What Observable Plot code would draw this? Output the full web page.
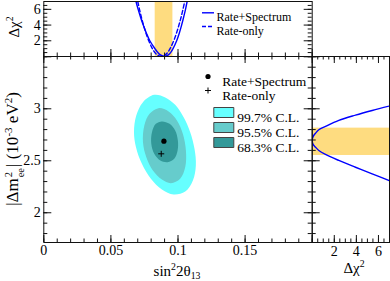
<!DOCTYPE html>
<html><head><meta charset="utf-8">
<script src="https://cdn.jsdelivr.net/npm/d3@7"></script>
<script src="https://cdn.jsdelivr.net/npm/@observablehq/plot@0.6"></script>
<style>
html,body{margin:0;padding:0;background:#fff;}
#chart{position:relative;width:390px;height:281px;overflow:hidden;font-family:"Liberation Serif","Times New Roman",serif;color:#000;background:#fff;}
#chart svg{position:absolute;left:0;top:0;}
.lbl{position:absolute;white-space:nowrap;line-height:1.1;}
.lbl sup{font-size:0.65em;vertical-align:0.55em;line-height:0;}
.lbl sub{font-size:0.65em;vertical-align:-0.35em;line-height:0;}
.ss{display:inline-flex;flex-direction:column;font-size:0.62em;line-height:1.1;vertical-align:0.5em;margin:0 1px;}
</style></head><body><div id="chart"></div>
<script>
// ---------- data ----------
const xTickValues = [0, 0.05, 0.1, 0.15];
const xTickLabels = ["0", "0.05", "0.1", "0.15"];
const yTickValues = [2, 2.5, 3];
const yTickLabels = ["2", "2.5", "3"];
const chiTickValues = [2, 4, 6];
const chiTickLabels = ["2", "4", "6"];

// contours (sin^2 2theta13, |dm2_ee|)
const contour997 = [
  [0.0823,3.134],[0.0905,3.109],[0.0979,3.038],[0.1041,2.920],[0.1091,2.775],[0.1123,2.615],
  [0.1133,2.455],[0.1111,2.311],[0.1054,2.205],[0.0967,2.176],[0.0880,2.224],[0.0798,2.327],
  [0.0731,2.471],[0.0687,2.631],[0.0672,2.775],[0.0689,2.936],[0.0739,3.064]
];
const contour955 = [
  [0.0855,3.006],[0.0930,2.974],[0.0992,2.888],[0.1036,2.759],[0.1059,2.599],[0.1054,2.439],
  [0.1016,2.327],[0.0947,2.285],[0.0880,2.320],[0.0813,2.407],[0.0764,2.535],[0.0739,2.679],
  [0.0749,2.839],[0.0788,2.952]
];
const contour683 = [
  [0.0880,2.878],[0.0937,2.855],[0.0979,2.791],[0.0999,2.695],[0.0997,2.599],[0.0972,2.519],
  [0.0922,2.487],[0.0868,2.503],[0.0823,2.567],[0.0801,2.663],[0.0806,2.775],[0.0835,2.855]
];
const bestRateSpectrum = [0.0895, 2.689];
const bestRateOnly = [0.0875, 2.567];

// top panel: delta chi2 vs sin^2 2theta13
const chiSinRateSpectrum = [
  [0.0687,7],[0.0703,6],[0.0721,5],[0.0741,4],[0.0764,3],[0.0790,2],[0.0828,1],[0.0850,0.5],
  [0.0869,0.2],[0.0900,0],[0.0928,0.2],[0.0945,0.5],[0.0963,1],[0.0990,2],[0.1010,3],[0.1027,4],
  [0.1042,5],[0.1056,6],[0.1068,7]
];
const chiSinRateOnly = [
  [0.0700,7],[0.0713,6],[0.0727,5],[0.0743,4],[0.0761,3],[0.0782,2],[0.0809,1],[0.0828,0.5],
  [0.0845,0.2],[0.0875,0],[0.0905,0.2],[0.0922,0.5],[0.0941,1],[0.0968,2],[0.0989,3],[0.1007,4],
  [0.1023,5],[0.1037,6],[0.1050,7]
];
const sinBand = [0.0830, 0.0962];

// right panel: delta chi2 vs |dm2_ee|
const chiDm = [
  [2.308,7],[2.375,5.43],[2.438,3.92],[2.503,2.41],[2.561,1.20],[2.599,0.60],[2.631,0.30],
  [2.658,0.08],[2.695,0],[2.732,0.08],[2.765,0.30],[2.798,0.60],[2.830,1.20],[2.888,2.41],
  [2.939,3.92],[2.984,5.43],[3.027,7]
];
const dmBand = [2.551, 2.814];

const fitLabels = ["Rate+Spectrum", "Rate-only"];
const clLabels = ["99.7% C.L.", "95.5% C.L.", "68.3% C.L."];
const clColors = ["#66ffff", "#66cccc", "#339999"];

// ---------- layout ----------
const W = 390, H = 281;
const L = 43.3, R = 311.7, T0 = 1, T = 56, B = 242, RR = 389;
const mainW = R - L, mainH = B - T, topH = T - T0, sideW = RR - R;
const ink = "#111";
const font = '"Liberation Serif","Times New Roman",serif';
const style = {background: "transparent", fontFamily: font, fontSize: "14px", color: "#000", overflow: "visible"};
const blue = "#0000ff";

const xMinor = d3.range(0, 0.2001, 0.01), xMajor = [0, 0.05, 0.1, 0.15, 0.2];
const yMinor = d3.range(1.8, 3.501, 0.1), yMajor = [2, 2.5, 3, 3.5];
const cMinor = d3.range(0.5, 7, 0.5), cMajor = [2, 4, 6];

function tX(vals, len, side, innerH) {
  return Plot.tickX(vals, {x: d => d, stroke: ink, strokeWidth: 1,
    insetTop: side === "bottom" ? innerH - len : 0, insetBottom: side === "top" ? innerH - len : 0});
}
function tY(vals, len, side, innerW) {
  return Plot.tickY(vals, {y: d => d, stroke: ink, strokeWidth: 1,
    insetRight: side === "left" ? innerW - len : 0, insetLeft: side === "right" ? innerW - len : 0});
}
const rectSym = {draw(ctx) { ctx.rect(-10, -5, 20, 10); }};
const lineSym = {draw(ctx) { ctx.moveTo(-6, 0); ctx.lineTo(6, 0); }};
const plusSym = {draw(ctx) { ctx.moveTo(-3, 0); ctx.lineTo(3, 0); ctx.moveTo(0, -3); ctx.lineTo(0, 3); }};

// ---------- main panel ----------
const mainPanel = Plot.plot({
  width: W, height: H, marginLeft: L, marginRight: W - R, marginTop: T, marginBottom: H - B,
  style,
  x: {domain: [0, 0.2]},
  y: {domain: [1.714, 3.503]},
  marks: [
    Plot.line(contour997, {x: d => d[0], y: d => d[1], fill: clColors[0], stroke: "none", curve: "catmull-rom-closed"}),
    Plot.line(contour955, {x: d => d[0], y: d => d[1], fill: clColors[1], stroke: "none", curve: "catmull-rom-closed"}),
    Plot.line(contour683, {x: d => d[0], y: d => d[1], fill: clColors[2], stroke: "none", curve: "catmull-rom-closed"}),
    Plot.dot([bestRateSpectrum], {x: d => d[0], y: d => d[1], r: 2.6, fill: "#000", stroke: "none"}),
    Plot.dot([bestRateOnly], {x: d => d[0], y: d => d[1], symbol: plusSym, stroke: "#000", strokeWidth: 1, fill: "none"}),
    tX(xMinor, 3.5, "bottom", mainH), tX(xMajor, 7, "bottom", mainH),
    tX(xMinor, 3.5, "top", mainH), tX(xMajor, 7, "top", mainH),
    tY(yMinor, 4, "left", mainW), tY(yMajor, 8, "left", mainW),
    tY(yMinor, 4, "right", mainW), tY(yMajor, 8, "right", mainW),
    Plot.axisX({ticks: xTickValues, tickSize: 0, tickPadding: 3, label: null,
      tickFormat: d => xTickLabels[xTickValues.indexOf(d)], fontSize: 14}),
    Plot.axisY({ticks: yTickValues, tickSize: 0, tickPadding: 3, label: null,
      tickFormat: d => yTickLabels[yTickValues.indexOf(d)], fontSize: 14}),
    Plot.frame({stroke: ink, strokeWidth: 1}),
    // legend
    Plot.dot([0], {x: null, y: null, frameAnchor: "top-left", dx: 164.2, dy: 20, r: 2.6, fill: "#000", stroke: "none"}),
    Plot.dot([0], {x: null, y: null, frameAnchor: "top-left", dx: 164.2, dy: 34, symbol: plusSym, stroke: "#000", strokeWidth: 1, fill: "none"}),
    ...fitLabels.map((t, i) => Plot.text([t], {text: d => d, frameAnchor: "top-left", dx: 178.4, dy: 20 + 14 * i, textAnchor: "start", fontSize: 13.5})),
    ...clLabels.map((t, i) => Plot.dot([t], {x: null, y: null, frameAnchor: "top-left", dx: 180, dy: 56 + 15 * i, symbol: rectSym, fill: clColors[i], stroke: "#444", strokeWidth: 1})),
    ...clLabels.map((t, i) => Plot.text([t], {text: d => d, frameAnchor: "top-left", dx: 193.4, dy: 56 + 15 * i, textAnchor: "start", fontSize: 13.5}))
  ]
});

// ---------- top panel ----------
const topPanel = Plot.plot({
  width: W, height: H, marginLeft: L, marginRight: W - R, marginTop: T0, marginBottom: H - T,
  style,
  x: {domain: [0, 0.2], axis: null},
  y: {domain: [0, 7]},
  marks: [
    Plot.rect([sinBand], {x1: d => d[0], x2: d => d[1], fill: "#fedc80"}),
    Plot.line(chiSinRateSpectrum, {x: d => d[0], y: d => d[1], stroke: blue, strokeWidth: 1.4, curve: "catmull-rom", clip: true}),
    Plot.line(chiSinRateOnly, {x: d => d[0], y: d => d[1], stroke: blue, strokeWidth: 1.4, strokeDasharray: "4,2.5", curve: "catmull-rom", clip: true}),
    tX(xMinor, 3.5, "bottom", topH), tX(xMajor, 7, "bottom", topH),
    tY(cMinor, 4, "left", mainW), tY(cMajor, 8, "left", mainW),
    tY(cMinor, 4, "right", mainW), tY(cMajor, 8, "right", mainW),
    Plot.axisY({ticks: chiTickValues, tickSize: 0, tickPadding: 3, label: null,
      tickFormat: d => chiTickLabels[chiTickValues.indexOf(d)], fontSize: 14}),
    Plot.frame({stroke: ink, strokeWidth: 1}),
    Plot.dot([0], {x: null, y: null, frameAnchor: "top-left", dx: 164.2, dy: 11.3, symbol: lineSym, stroke: blue, strokeWidth: 1.4, fill: "none"}),
    Plot.dot([0], {x: null, y: null, frameAnchor: "top-left", dx: 164.2, dy: 25, symbol: lineSym, stroke: blue, strokeWidth: 1.4, strokeDasharray: "4,2", fill: "none"}),
    ...fitLabels.map((t, i) => Plot.text([t], {text: d => d, frameAnchor: "top-left", dx: 172.7, dy: 11.3 + 13.7 * i, textAnchor: "start", fontSize: 12}))
  ]
});

// ---------- right panel ----------
const sidePanel = Plot.plot({
  width: W, height: H, marginLeft: R, marginRight: W - RR, marginTop: T, marginBottom: H - B,
  style,
  x: {domain: [0, 7]},
  y: {domain: [1.714, 3.503], axis: null},
  marks: [
    Plot.rect([dmBand], {y1: d => d[0], y2: d => d[1], fill: "#fedc80"}),
    Plot.line(chiDm, {x: d => d[1], y: d => d[0], stroke: blue, strokeWidth: 1.4, curve: "catmull-rom", clip: true}),
    tX(cMinor, 3.5, "bottom", mainH), tX(cMajor, 7, "bottom", mainH),
    tX(cMinor, 3.5, "top", mainH), tX(cMajor, 7, "top", mainH),
    tY(yMinor, 4, "left", sideW), tY(yMajor, 8, "left", sideW),
    Plot.axisX({ticks: chiTickValues, tickSize: 0, tickPadding: 4, label: null,
      tickFormat: d => chiTickLabels[chiTickValues.indexOf(d)], fontSize: 14}),
    Plot.frame({stroke: ink, strokeWidth: 1})
  ]
});

const chart = document.getElementById("chart");
chart.append(topPanel, sidePanel, mainPanel);

// axis titles (real text)
const titles = [
  {html: '|Δm<span class="ss"><span>2</span><span>ee</span></span>| (10<sup>-3</sup> eV<sup>2</sup>)', x: 14.5, y: 149, rot: true, size: 17},
  {html: 'Δχ<sup>2</sup>', x: 14, y: 27, rot: true, size: 15},
  {html: 'sin<sup>2</sup>2θ<sub>13</sub>', x: 177, y: 271, rot: false, size: 15},
  {html: 'Δχ<sup>2</sup>', x: 354, y: 268, rot: false, size: 15}
];
for (const t of titles) {
  const d = document.createElement("div");
  d.className = "lbl";
  d.innerHTML = t.html;
  d.style.left = t.x + "px";
  d.style.top = t.y + "px";
  d.style.fontSize = t.size + "px";
  d.style.transform = "translate(-50%,-50%)" + (t.rot ? " rotate(-90deg)" : "");
  chart.append(d);
}
</script></body></html>
